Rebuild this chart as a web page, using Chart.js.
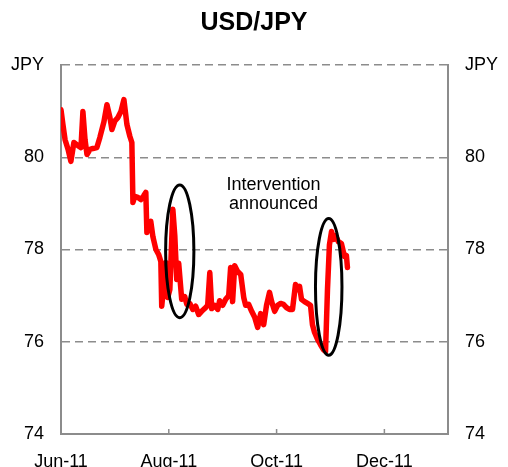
<!DOCTYPE html>
<html>
<head>
<meta charset="utf-8">
<script src="https://cdn.jsdelivr.net/npm/chart.js@4.4.0/dist/chart.umd.min.js"></script>
<style>
  html, body { margin: 0; padding: 0; background: #fff; }
  #wrap { width: 508px; height: 467px; }
</style>
</head>
<body>
<div id="wrap"><canvas id="chart" width="508" height="467"></canvas></div>
<script>
// days since 1 Jun 2011
var dayOffsets = [0, 1.1, 2.3, 4.0, 5.6, 7.3, 9.6, 11.3, 12.4, 13.6, 14.7, 16.4, 18.1, 20.3, 22.0, 24.3, 26.0, 27.7, 28.8, 30.5,
  32.2, 33.9, 35.6, 37.3, 39.0, 40.1, 40.7, 41.8, 43.5, 45.2, 46.9, 48.0, 48.6, 49.7, 50.8, 52.0, 53.7, 55.3, 56.5, 57.0,
  58.2, 59.3, 60.4, 61.6, 63.3, 64.4, 65.5, 66.6, 68.3, 70.0, 71.2, 72.9, 74.6, 76.2, 77.9, 79.6, 81.3, 83.0, 84.2, 85.3,
  87.0, 88.7, 89.8, 91.5, 93.2, 94.9, 96.0, 97.1, 98.3, 100.0, 101.7, 103.4, 104.5, 106.2, 107.9, 109.6, 111.3, 113.0, 114.7, 116.3,
  118.0, 119.2, 120.9, 122.6, 124.3, 125.9, 127.6, 129.3, 131.0, 132.7, 133.9, 135.0, 136.1, 137.8, 139.5, 141.2, 142.3, 143.5, 145.2, 146.8,
  148.5, 149.7, 150.8, 151.9, 153.1, 154.2, 155.3, 157.0, 158.7, 160.4, 161.5, 162.1];
var usdJpy = [81.03, 80.71, 80.38, 80.17, 79.91, 80.32, 80.25, 80.21, 80.99, 80.38, 80.06, 80.17, 80.19, 80.21, 80.43, 80.77, 81.14, 80.86, 80.60, 80.79,
  80.86, 80.99, 81.25, 80.71, 80.45, 80.32, 79.02, 79.15, 79.13, 79.08, 79.17, 79.24, 78.37, 78.52, 78.61, 78.28, 78.00, 77.89, 77.74, 76.77,
  77.24, 77.72, 76.96, 77.13, 78.87, 78.30, 77.35, 77.70, 76.92, 76.98, 76.81, 76.83, 76.70, 76.77, 76.59, 76.66, 76.72, 76.79, 77.50, 76.72,
  76.79, 76.70, 76.89, 76.79, 76.92, 77.00, 77.61, 76.87, 77.65, 77.52, 77.46, 76.96, 76.79, 76.81, 76.66, 76.53, 76.31, 76.61, 76.37, 76.79,
  77.07, 76.87, 76.66, 76.79, 76.83, 76.81, 76.74, 76.70, 76.70, 77.24, 77.13, 77.20, 76.92, 76.87, 76.83, 76.79, 76.37, 76.20, 76.05, 75.94,
  75.83, 75.79, 77.13, 78.10, 78.39, 78.22, 78.30, 78.17, 78.13, 77.85, 77.87, 77.61];

var xTickDays = [0, 61, 122, 183];
var xTickLabels = ['Jun-11', 'Aug-11', 'Oct-11', 'Dec-11'];
var yTicks = [74, 76, 78, 80, 82];

// ellipses: centre day, centre value, half width (days), half height (JPY)
var ellipseDays = [67.2, 151.5];
var ellipseValues = [77.96, 77.19];
var ellipseHalfDays = [8.0, 7.5];
var ellipseHalfValues = [1.44, 1.48];
var noteLines = ['Intervention', 'announced'];
var noteDay = 120.3;
var noteValue = 79.39;

Chart.defaults.font.family = '"Liberation Sans", Arial, sans-serif';
Chart.defaults.color = '#000';

var points = dayOffsets.map(function(d, i) { return { x: d, y: usdJpy[i] }; });

var extras = {
  id: 'extras',
  afterDatasetsDraw: function(chart) {
    var ctx = chart.ctx;
    var xs = chart.scales.x, ys = chart.scales.y;
    var area = chart.chartArea;
    ctx.save();
    // small tick marks pointing into the plot
    ctx.strokeStyle = '#8c8c8c';
    ctx.lineWidth = 1.5;
    xTickDays.forEach(function(d) {
      if (d === 0) return;
      var px = xs.getPixelForValue(d);
      ctx.beginPath();
      ctx.moveTo(px, area.bottom);
      ctx.lineTo(px, area.bottom - 5);
      ctx.stroke();
    });
    // ellipses round the intervention moves
    ctx.strokeStyle = '#000';
    ctx.lineWidth = 3;
    for (var i = 0; i < ellipseDays.length; i++) {
      var cx = xs.getPixelForValue(ellipseDays[i]);
      var cy = ys.getPixelForValue(ellipseValues[i]);
      var rx = xs.getPixelForValue(ellipseDays[i] + ellipseHalfDays[i]) - cx;
      var ry = cy - ys.getPixelForValue(ellipseValues[i] + ellipseHalfValues[i]);
      ctx.beginPath();
      ctx.ellipse(cx, cy, rx, ry, 0, 0, Math.PI * 2);
      ctx.stroke();
    }
    // note text
    ctx.fillStyle = '#000';
    ctx.font = '18px "Liberation Sans", Arial, sans-serif';
    ctx.textAlign = 'center';
    ctx.textBaseline = 'middle';
    var tx = xs.getPixelForValue(noteDay);
    var ty = ys.getPixelForValue(noteValue);
    noteLines.forEach(function(t, k) {
      ctx.fillText(t, tx, ty + k * 19);
    });
    ctx.restore();
  }
};

new Chart(document.getElementById('chart'), {
  type: 'line',
  data: {
    datasets: [{
      data: points,
      borderColor: '#ff0000',
      borderWidth: 5.5,
      borderJoinStyle: 'round',
      borderCapStyle: 'round',
      pointRadius: 0,
      tension: 0,
      fill: false
    }]
  },
  options: {
    responsive: false,
    animation: false,
    layout: { padding: 0 },
    plugins: {
      legend: { display: false },
      tooltip: { enabled: false },
      title: {
        display: true,
        text: 'USD/JPY',
        color: '#000',
        font: { size: 25, weight: 'bold' },
        padding: { top: 8, bottom: 27 }
      }
    },
    scales: {
      x: {
        type: 'linear',
        min: 0,
        max: 219,
        afterBuildTicks: function(scale) {
          scale.ticks = xTickDays.map(function(v) { return { value: v }; });
        },
        afterFit: function(scale) { scale.height = 33; },
        ticks: {
          font: { size: 18 },
          padding: 17,
          maxRotation: 0,
          callback: function(v) { return xTickLabels[xTickDays.indexOf(v)]; }
        },
        grid: { display: false, drawTicks: false },
        border: { color: '#8c8c8c', width: 2 }
      },
      y: {
        position: 'left',
        min: 74,
        max: 82,
        afterBuildTicks: function(scale) {
          scale.ticks = yTicks.map(function(v) { return { value: v }; });
        },
        afterFit: function(scale) { scale.width = 61; },
        ticks: {
          font: { size: 18 },
          padding: 17,
          callback: function(v) { return v === 82 ? 'JPY' : v; }
        },
        grid: { color: '#8c8c8c', lineWidth: 1.5, drawTicks: false },
        border: { color: '#8c8c8c', width: 2, dash: [8, 5] }
      },
      y2: {
        position: 'right',
        min: 74,
        max: 82,
        afterBuildTicks: function(scale) {
          scale.ticks = yTicks.map(function(v) { return { value: v }; });
        },
        afterFit: function(scale) { scale.width = 60; },
        ticks: {
          font: { size: 18 },
          padding: 17,
          callback: function(v) { return v === 82 ? 'JPY' : v; }
        },
        grid: { display: false, drawTicks: false },
        border: { color: '#8c8c8c', width: 2 }
      }
    }
  },
  plugins: [extras]
});
</script>
</body>
</html>
